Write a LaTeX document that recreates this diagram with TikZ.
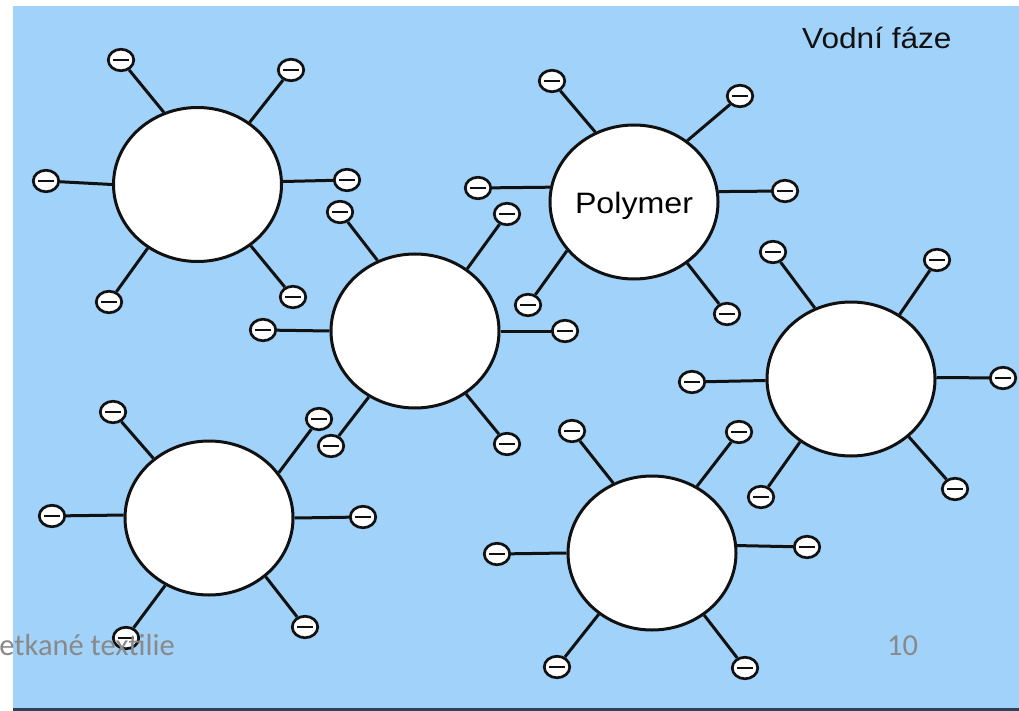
\documentclass[tikz,border=0pt]{standalone}
\usepackage{fontspec}
\setmainfont{Liberation Sans}
\newfontfamily\footerfont{Carlito}
\usetikzlibrary{shapes.geometric}
\definecolor{water}{RGB}{161,210,250}
\definecolor{ink}{RGB}{17,17,17}
\definecolor{footgray}{RGB}{137,137,137}
\definecolor{rulecol}{RGB}{45,65,88}
\begin{document}
\begin{tikzpicture}[x=1pt,y=-1pt,
  particle/.style={ellipse, draw=ink, line width=3pt, fill=white,
    minimum width=168pt, minimum height=154pt, inner sep=0pt},
  charge/.style={ellipse, draw=ink, line width=2.7pt, fill=white,
    minimum width=25.5pt, minimum height=21.5pt, inner sep=0pt,
    path picture={\draw[ink, line width=2.8pt]
      ([xshift=-8pt]path picture bounding box.center) --
      ([xshift=8pt]path picture bounding box.center);}},
  tether/.style={draw=ink, line width=3pt},
  plabel/.style={font=\fontsize{29}{29}\selectfont, text=ink, inner sep=0pt},
  footer/.style={font=\footerfont\fontsize{30.5}{30.5}\selectfont, text=footgray, inner sep=0pt}]

\useasboundingbox (0,0) rectangle (1019,711);

% water phase and the slide's bottom rule
\fill[water] (13,6) rectangle (1019,708.5);
\fill[rulecol] (13,708) rectangle (1019,711);

% polymer particles
\node[particle] (p1) at (197.5,184.5) {};
\node[particle] (p2) at (415,331) {};
\node[particle, text height=24pt, text depth=0pt] (p3) at (634,202)
  {\scalebox{1.09}[1]{\fontsize{29.5}{29.5}\selectfont Polymer}};
\node[particle] (p4) at (851,379) {};
\node[particle] (p5) at (209,518) {};
\node[particle] (p6) at (652,553) {};

% negative surface charges: particle / tag / border angle / position
\foreach \p/\c/\ang/\x/\y in {
  p1/a/115/121/60,  p1/b/50/291/70,   p1/c/180/46/181,
  p1/d/2/347/180,   p1/e/232/109/302, p1/f/311/293/297,
  p5/a/133/113/412, p5/b/33/319/419,  p5/c/178/52/516,
  p5/d/0/363/517,   p5/e/237/126/638, p5/f/314/305/627,
  p2/a/118/340/212, p2/b/50/507/214,  p2/c/180/263/330,
  p2/d/0/565/331,   p2/e/235/331/446, p2/f/309/507/444,
  p3/a/119/552/81,  p3/b/49/740/96,   p3/c/170/478/188,
  p3/d/7/785/191,   p3/e/216/528/305, p3/f/311/727/314,
  p4/a/117/773/252, p4/b/53/937/260,  p4/c/181/692/382,
  p4/d/1/1003/378,  p4/e/231/761/497, p4/f/315/955/489,
  p6/a/119/572/431, p6/b/56/739/432,  p6/c/180/497/554,
  p6/d/5/807/547,   p6/e/229/557/667, p6/f/310/745/668}
{
  \node[charge] (\p\c) at (\x,\y) {};
  \draw[tether] (\p.\ang) -- (\p\c);
}

% labels
\node[plabel, anchor=base west] (phase) at (802,49) {\scalebox{1.09}[1]{Vodní fáze}};
\node[footer, anchor=base east] (course) at (175,655) {etkané textilie};
\node[footer, anchor=base] (pageno) at (902.5,655) {10};
\end{tikzpicture}
\end{document}
